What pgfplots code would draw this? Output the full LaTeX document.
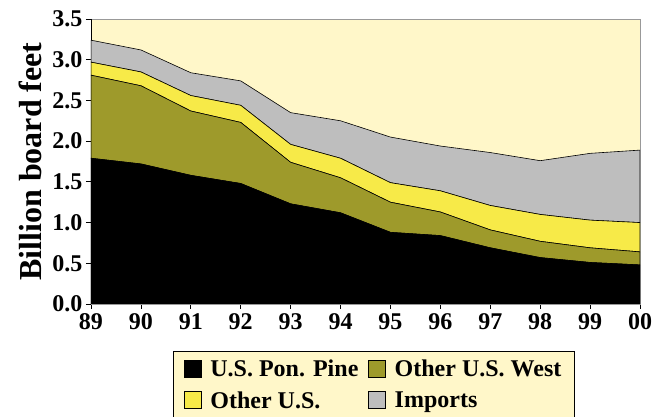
\documentclass[border=0pt]{standalone}
\usepackage{pgfplots}
\pgfplotsset{compat=1.18}
\usepackage{fontspec}
\setmainfont{Liberation Serif}
\definecolor{bgyel}{HTML}{FFF7C9}
\definecolor{olivec}{HTML}{9E9A2B}
\definecolor{yelc}{HTML}{F7EA48}
\definecolor{grayc}{HTML}{BEBEBE}
\pgfplotstableread{
x pine west other imports
0 1.79 1.02 0.16 0.27
1 1.72 0.96 0.17 0.27
2 1.58 0.79 0.19 0.28
3 1.48 0.75 0.21 0.30
4 1.23 0.51 0.22 0.39
5 1.12 0.43 0.24 0.46
6 0.88 0.37 0.24 0.56
7 0.84 0.29 0.26 0.55
8 0.69 0.22 0.30 0.65
9 0.57 0.20 0.33 0.66
10 0.51 0.18 0.34 0.82
11 0.48 0.16 0.36 0.89
}\data
\begin{document}
\begin{tikzpicture}
\begin{axis}[
  scale only axis, width=549pt, height=285pt,
  xmin=0, xmax=11, ymin=0, ymax=3.5,
  stack plots=y,
  axis background/.style={fill=bgyel},
  axis line style={draw=gray!80, line width=0.8pt},
  xtick={0,...,11},
  xticklabels={89,90,91,92,93,94,95,96,97,98,99,00},
  ytick={0,0.5,...,3.5},
  yticklabel style={/pgf/number format/.cd, fixed, fixed zerofill, precision=1},
  /pgf/number format/assume math mode=true,
  xtick pos=bottom, ytick pos=left,
  tick align=outside, major tick length=5pt,
  tick style={black, line width=0.8pt},
  ticklabel style={font=\fontsize{24}{24}\selectfont\bfseries},
  xticklabel style={yshift=-1pt},
  ylabel={Billion board feet},
  ylabel style={at={(axis description cs:0,0.5)}, anchor=center, yshift=61pt,
    font=\fontsize{32}{32}\selectfont\bfseries},
  legend columns=2,
  legend cell align=left,
  legend style={at={(0.515,-0.165)}, anchor=north, fill=bgyel, draw=black,
    line width=0.6pt,
    font=\fontsize{24}{26}\selectfont\bfseries,
    /tikz/every even column/.append style={column sep=8pt},
    row sep=9pt, inner xsep=11pt, inner ysep=7pt},
  legend image code/.code={\draw[#1, draw=black, line width=0.6pt] (0pt,-8pt) rectangle (17pt,9pt);
    \path[draw=none, fill=none] (0pt,0pt) -- (24pt,0pt);},
]
\addplot[fill=black, draw=black, line width=0.6pt] table[x=x,y=pine]{\data} \closedcycle;
\addplot[fill=olivec, draw=black, line width=0.6pt] table[x=x,y=west]{\data} \closedcycle;
\addplot[fill=yelc, draw=black, line width=0.6pt] table[x=x,y=other]{\data} \closedcycle;
\addplot[fill=grayc, draw=black, line width=0.6pt] table[x=x,y=imports]{\data} \closedcycle;
\legend{U.S. Pon. Pine, Other U.S. West, Other U.S., Imports}
\draw[black, line width=0.9pt] (rel axis cs:0,1) -- (rel axis cs:0,0) -- (rel axis cs:1,0);
\end{axis}
\pgfresetboundingbox
\path (current axis.south west) ++(-91pt,-113pt) coordinate (bbA);
\path (current axis.north east) ++(16pt,19pt) coordinate (bbB);
\path[use as bounding box] (bbA) rectangle (bbB);
\end{tikzpicture}
\end{document}
